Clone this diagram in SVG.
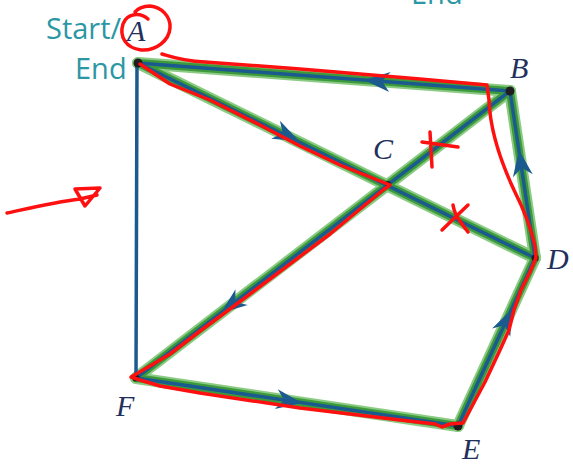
<svg xmlns="http://www.w3.org/2000/svg" width="573" height="470" viewBox="0 0 573 470">
<style>
.glow{stroke:#8ccb84;stroke-width:12;fill:none;stroke-linecap:round}
.green{stroke:#3d9a3b;stroke-width:8;fill:none;stroke-linecap:round}
.blue{stroke:#1b5a8e;stroke-width:3.5;fill:none;stroke-linecap:round}
.teal{font-family:"Open Sans","Liberation Sans",sans-serif;font-size:29px;fill:#2c97a4}
.lbl{font-family:"Liberation Serif",serif;font-style:italic;font-size:30px;fill:#22305c}
.red{stroke:#ff1010;stroke-width:3.5;fill:none;stroke-linecap:round;stroke-linejoin:round}
.dot{fill:#1e1e1e}
</style>
<defs>
<path id="ah" d="M0,0 L-26,-10 L-18,0 L-26,10 Z" fill="#1b5a8e"/>
</defs>
<g id="connectors">
<g id="edges-green">
<line class="glow" x1="138" y1="63" x2="510" y2="91"/>
<line class="glow" x1="138" y1="63" x2="535" y2="258"/>
<line class="glow" x1="136" y1="378" x2="510" y2="91"/>
<line class="glow" x1="510" y1="91" x2="535" y2="258"/>
<line class="glow" x1="535" y1="258" x2="458" y2="426"/>
<line class="glow" x1="458" y1="426" x2="136" y2="378"/>
<line class="green" x1="138" y1="63" x2="510" y2="91"/>
<line class="green" x1="138" y1="63" x2="535" y2="258"/>
<line class="green" x1="136" y1="378" x2="510" y2="91"/>
<line class="green" x1="510" y1="91" x2="535" y2="258"/>
<line class="green" x1="535" y1="258" x2="458" y2="426"/>
<line class="green" x1="458" y1="426" x2="136" y2="378"/>
</g>
<g id="edges-blue">
<line class="blue" x1="137" y1="63" x2="136" y2="378"/>
<line class="blue" x1="138" y1="63" x2="510" y2="91"/>
<line class="blue" x1="138" y1="63" x2="535" y2="258"/>
<line class="blue" x1="136" y1="378" x2="510" y2="91"/>
<line class="blue" x1="510" y1="91" x2="535" y2="258"/>
<line class="blue" x1="535" y1="258" x2="458" y2="426"/>
<line class="blue" x1="458" y1="426" x2="136" y2="378"/>
</g>
<g id="arrowheads">
<use href="#ah" transform="translate(364,80) rotate(184.3)"/>
<use href="#ah" transform="translate(299,141) rotate(25.8)"/>
<use href="#ah" transform="translate(519,150) rotate(261.5)"/>
<use href="#ah" transform="translate(512,309) rotate(-65.4)"/>
<use href="#ah" transform="translate(302,403) rotate(8.5)"/>
<use href="#ah" transform="translate(221,313) rotate(142.4)"/>
</g>
</g>
<g id="node-A"><circle class="dot" cx="138" cy="63" r="4.5"/>
<text class="teal" x="46" y="39">Start/</text><text class="lbl" x="127" y="41">A</text>
<text class="teal" x="75" y="79">End</text></g>
<g id="node-B"><circle class="dot" cx="510" cy="91" r="4.5"/><text class="lbl" x="510" y="78">B</text></g>
<g id="node-C"><circle class="dot" cx="388" cy="184" r="3"/><text class="lbl" x="373" y="159">C</text></g>
<g id="node-D"><circle class="dot" cx="535" cy="258" r="3.5"/><text class="lbl" x="547" y="269">D</text></g>
<g id="node-E"><circle class="dot" cx="458" cy="426" r="4.5"/><text class="lbl" x="462" y="459">E</text></g>
<g id="node-F"><circle class="dot" cx="136" cy="378" r="3.5"/><text class="lbl" x="116" y="416">F</text></g>
<text class="teal" x="411" y="4">End</text>
<g id="annotations">
<path class="red" d="M162,54 C172,57 182,61 205,62 L300,69 L420,79 L487,85 L489,100 C490,130 500,160 514,190 C525,212 532,232 535,246 L536,258 L530,272 L521,290 L514,310 L509,330 L500,350 L485,382 L470,410 L463,423 L450,424 L442,427 L435,424 L400,420 L300,408 L200,393 L160,386 L140,380 L131,377 L150,366 L170,354 L200,331 L230,309 L270,279 L330,234 L383,190 L390,185 L370,177 L340,165 L300,146 L260,125 L210,100 L170,84 L140,64"/>
<path class="red" d="M148,19 C140,12 127,13 123,24 C119,37 126,48 141,50 C157,51 169,40 170,28 C171,16 161,7 150,6 C143,6 137,9 135,12"/>
<path class="red" d="M422,142 L458,147 M430,132 L432,167"/>
<path class="red" d="M442,230 L468,205 M453,205 C454,211 456,216 460,221 C463,226 466,229 468,232"/>
<path class="red" d="M7,213 C30,208 55,202 80,199 L97,195 M75,189 L100,188 L85,206 Z"/>
</g>
</svg>
